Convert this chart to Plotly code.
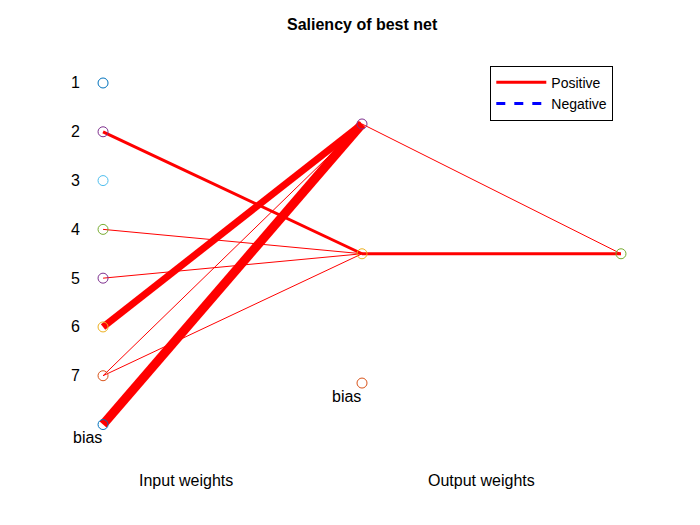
import plotly.graph_objects as go

# node positions (layer x, row y)
input_labels = ["1", "2", "3", "4", "5", "6", "7", "bias"]
input_y = [1, 2, 3, 4, 5, 6, 7, 8]
input_colors = ["#0072BD", "#7E2F8E", "#4DBEEE", "#77AC30", "#7E2F8E", "#EDB120", "#D95319", "#0072BD"]
hidden_y = [1.84, 4.5, 7.15]   # last one is hidden bias
hidden_colors = ["#7E2F8E", "#EDB120", "#D95319"]
output_y = [4.5]
output_colors = ["#77AC30"]

# positive connections: (from_layer, from_idx, to_layer, to_idx, width)
edges = [
    (0, 1, 1, 1, 3), (0, 3, 1, 1, 1), (0, 4, 1, 1, 1),
    (0, 5, 1, 0, 7), (0, 6, 1, 0, 1), (0, 6, 1, 1, 1),
    (0, 7, 1, 0, 9),
    (1, 0, 2, 0, 1), (1, 1, 2, 0, 3),
]
layers = [input_y, hidden_y, output_y]

fig = go.Figure()
for fl, fi, tl, ti, w in edges:
    fig.add_trace(go.Scatter(x=[fl, tl], y=[layers[fl][fi], layers[tl][ti]], mode="lines",
                             line=dict(color="#FF0000", width=w), showlegend=False, hoverinfo="skip"))

for lx, ys, cols in [(0, input_y, input_colors), (1, hidden_y, hidden_colors), (2, output_y, output_colors)]:
    fig.add_trace(go.Scatter(x=[lx] * len(ys), y=ys, mode="markers", showlegend=False,
                             marker=dict(symbol="circle-open", size=10, color=cols, line=dict(width=1))))

fig.add_trace(go.Scatter(x=[None], y=[None], mode="lines", name="Positive",
                         line=dict(color="#FF0000", width=3)))
fig.add_trace(go.Scatter(x=[None], y=[None], mode="lines", name="Negative",
                         line=dict(color="#0000FF", width=3, dash="dash")))

font = dict(family="Liberation Sans, Arial", size=16, color="black")
ann = []
for lab, y in zip(input_labels[:-1], input_y[:-1]):
    ann.append(dict(x=-0.08, y=y, text=lab, showarrow=False, xanchor="right", font=font))
ann.append(dict(x=-0.06, y=input_y[-1] + 0.27, text="bias", showarrow=False, font=font))
ann.append(dict(x=0.94, y=hidden_y[-1] + 0.28, text="bias", showarrow=False, font=font))
ann.append(dict(x=0.32, y=9.15, text="Input weights", showarrow=False, font=font))
ann.append(dict(x=1.46, y=9.15, text="Output weights", showarrow=False, font=font))
ann.append(dict(x=1.0, y=-0.2, text="<b>Saliency of best net</b>", showarrow=False, font=font))

fig.update_layout(
    width=700, height=525, margin=dict(l=0, r=0, t=0, b=0),
    plot_bgcolor="white", paper_bgcolor="white",
    xaxis=dict(range=[-0.367, 2.336], visible=False),
    yaxis=dict(range=[10.223, -0.537], visible=False),
    annotations=ann,
    legend=dict(x=0.689, y=0.89, xanchor="left", yanchor="top", bordercolor="black", borderwidth=1,
                bgcolor="white", font=dict(family="Liberation Sans, Arial", size=14, color="black"),
                tracegroupgap=0, itemwidth=50),
)
fig.write_html("out.html")
